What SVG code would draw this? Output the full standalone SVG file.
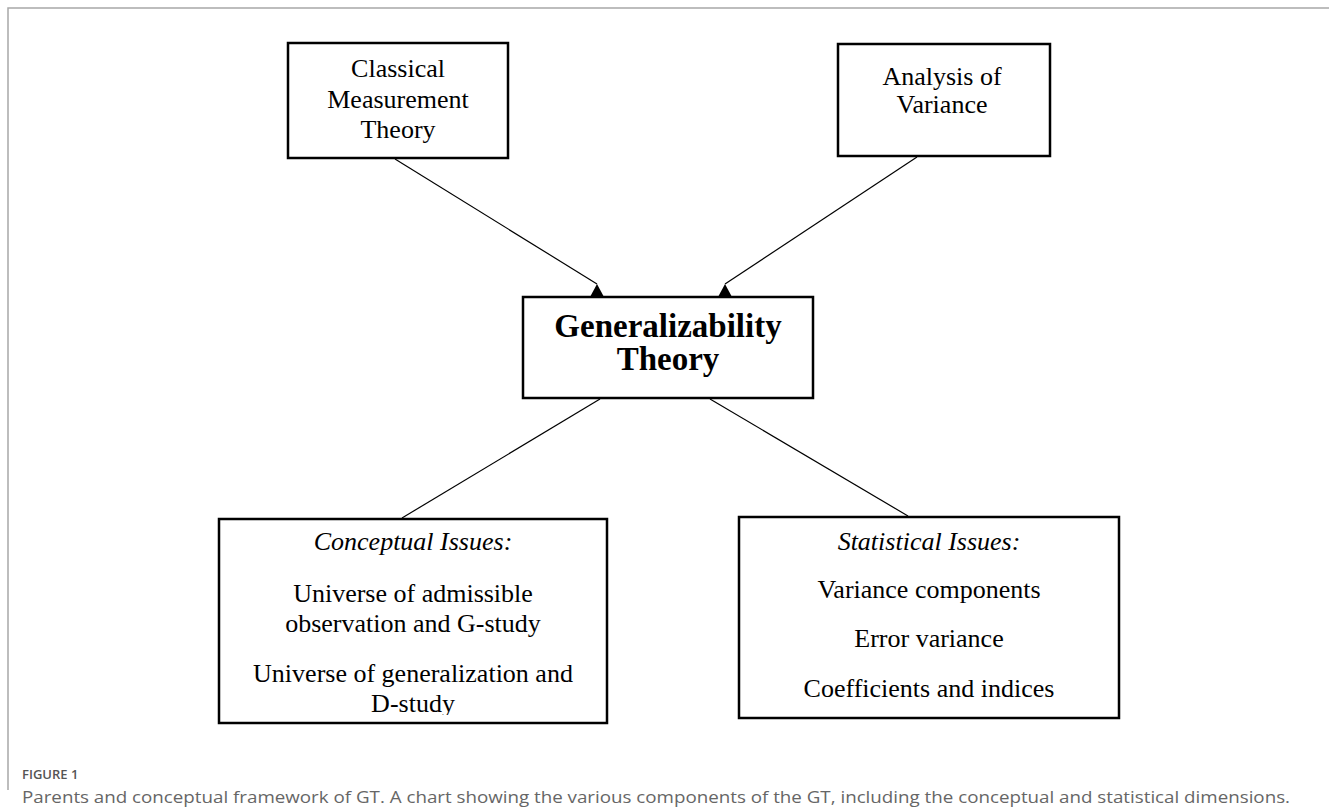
<svg xmlns="http://www.w3.org/2000/svg" width="1329" height="809" viewBox="0 0 1329 809">
  <defs>
    <style>
      .box { fill: #ffffff; stroke: #000000; stroke-width: 2.5; }
      .t { font-family: "Liberation Serif", "Times New Roman", serif; font-size: 26px; fill: #000000; text-anchor: middle; }
      .it { font-style: italic; }
      .bold { font-family: "Liberation Serif", "Times New Roman", serif; font-size: 33px; font-weight: bold; fill: #000000; text-anchor: middle; }
      .conn { stroke: #000000; stroke-width: 1.2; fill: none; }
      .frame { stroke: #a8a8a8; stroke-width: 1.5; fill: none; }
      .figlabel { font-family: "Open Sans", "Noto Sans", sans-serif; font-size: 13px; font-weight: 600; fill: #555555; }
      .caption { font-family: "Open Sans", "Noto Sans", sans-serif; font-size: 16px; fill: #666666; }
    </style>
    <marker id="tri" viewBox="0 0 14 13" refX="7" refY="0" markerWidth="14" markerHeight="13" markerUnits="userSpaceOnUse" orient="0">
      <path d="M7,0 L14,13 L0,13 Z" fill="#000000"/>
    </marker>
    <clipPath id="clipConceptual">
      <rect x="219" y="519" width="388" height="196"/>
    </clipPath>
  </defs>

  <g id="frame">
    <path class="frame" d="M8,790 L8,8 L1329,8"/>
  </g>

  <g id="node-classical">
    <rect class="box" x="288" y="43" width="220" height="115"/>
    <text class="t" x="398" y="77">Classical</text>
    <text class="t" x="398" y="108">Measurement</text>
    <text class="t" x="398" y="138">Theory</text>
  </g>

  <g id="node-anova">
    <rect class="box" x="838" y="44" width="212" height="112"/>
    <text class="t" x="942" y="85">Analysis of</text>
    <text class="t" x="942" y="113">Variance</text>
  </g>

  <g id="node-gt">
    <rect class="box" x="523" y="297" width="290" height="101"/>
    <text class="bold" x="668" y="337">Generalizability</text>
    <text class="bold" x="668" y="370">Theory</text>
  </g>

  <g id="node-conceptual">
    <rect class="box" x="219" y="519" width="388" height="204"/>
    <g clip-path="url(#clipConceptual)">
      <text class="t it" x="413" y="550">Conceptual Issues:</text>
      <text class="t" x="413" y="602">Universe of admissible</text>
      <text class="t" x="413" y="632">observation and G-study</text>
      <text class="t" x="413" y="682">Universe of generalization and</text>
      <text class="t" x="413" y="712">D-study</text>
    </g>
  </g>

  <g id="node-statistical">
    <rect class="box" x="739" y="517" width="380" height="201"/>
    <text class="t it" x="929" y="550">Statistical Issues:</text>
    <text class="t" x="929" y="598">Variance components</text>
    <text class="t" x="929" y="647">Error variance</text>
    <text class="t" x="929" y="697">Coefficients and indices</text>
  </g>

  <g id="connectors">
    <line class="conn" x1="395" y1="159" x2="597" y2="284" marker-end="url(#tri)"/>
    <line class="conn" x1="917" y1="157" x2="725" y2="284" marker-end="url(#tri)"/>
    <line class="conn" x1="600" y1="399" x2="402" y2="518"/>
    <line class="conn" x1="710" y1="399" x2="908" y2="516"/>
  </g>

  <g id="caption">
    <text class="figlabel" x="22" y="779">FIGURE 1</text>
    <text class="caption" x="22" y="803" textLength="1268" lengthAdjust="spacingAndGlyphs">Parents and conceptual framework of GT. A chart showing the various components of the GT, including the conceptual and statistical dimensions.</text>
  </g>
</svg>
